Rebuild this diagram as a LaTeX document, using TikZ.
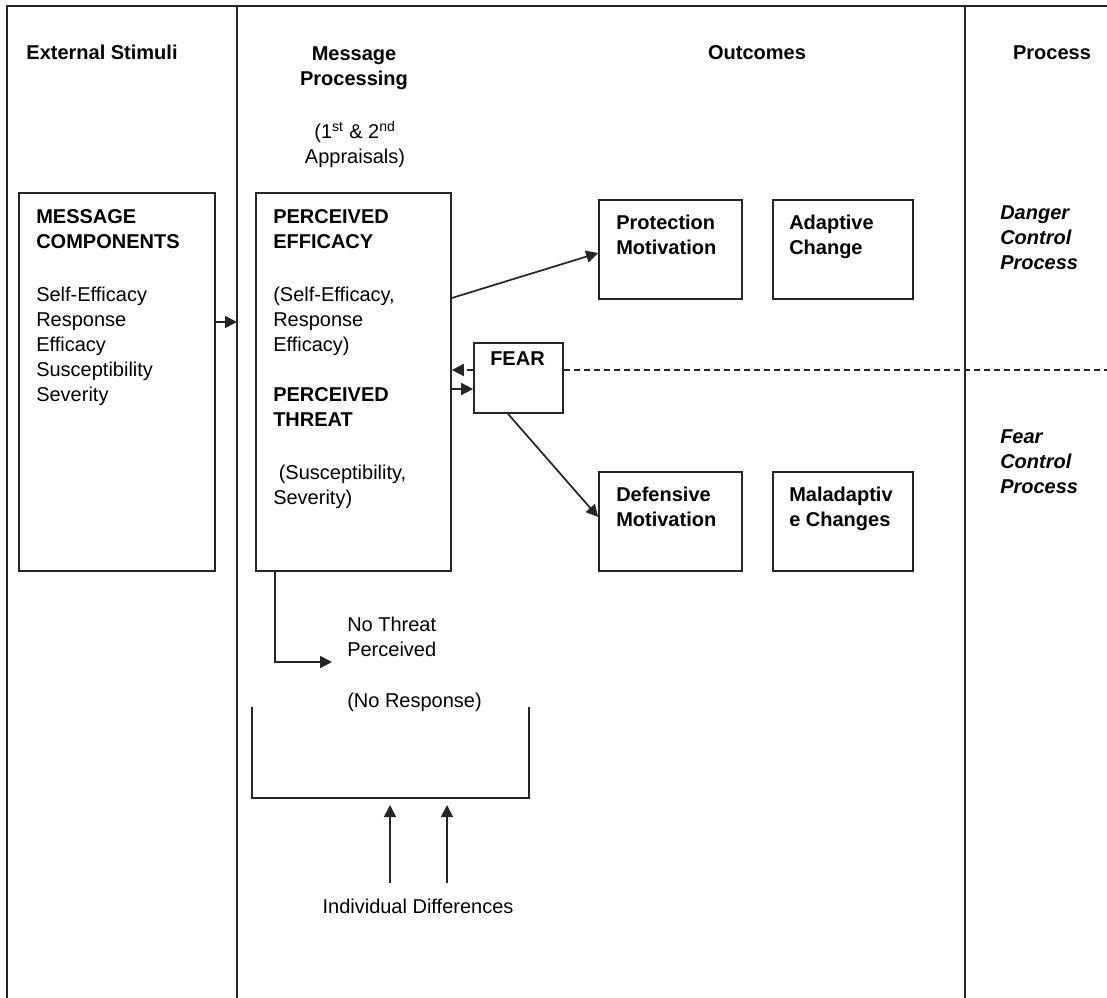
\documentclass[tikz,border=0pt]{standalone}
\usepackage{fontspec}
\setmainfont{Liberation Sans}
\usetikzlibrary{arrows.meta,fit}
\begin{document}
\begin{tikzpicture}[x=0.75pt,y=-0.75pt,
  ln/.style={line width=1.3pt, draw=black!85},
  box/.style={ln, rectangle, inner sep=0pt},
  txt/.style={inner sep=0pt, anchor=north west, align=left, font=\fontsize{15}{18.75}\selectfont},
  btxt/.style={txt, font=\fontsize{15}{18.75}\selectfont\bfseries},
  itxt/.style={txt, font=\fontsize{15}{18.75}\selectfont\bfseries\itshape},
  head/.style={inner sep=0pt, anchor=north, align=center, font=\fontsize{15}{18.75}\selectfont\bfseries},
  arr/.style={ln, -{Triangle[length=9pt,width=9pt]}},
  dsh/.style={ln, dash pattern=on 4.5pt off 3pt},
]
\useasboundingbox (0,0) rectangle (1107,998);
% frame
\coordinate (tl) at (7,6);
\coordinate (tr) at (1107,6);
\coordinate (bl) at (7,998);
\coordinate (d1t) at (237,6);
\coordinate (d1b) at (237,998);
\coordinate (d2t) at (965,6);
\coordinate (d2b) at (965,998);
\draw[ln] (bl) -- (tl) -- (tr);
\draw[ln] (d1t) -- (d1b);
\draw[ln] (d2t) -- (d2b);
% headings
\node[head] (h1) at (102,45) {External Stimuli};
\node[head] (h2) at (354,46) {Message\\Processing};
\node[txt, anchor=north, align=center] (h2b) at (355,121) {(1\textsuperscript{st} \& 2\textsuperscript{nd}\\Appraisals)};
\node[head] (h3) at (757,45) {Outcomes};
\node[head] (h4) at (1052,45) {Process};
% boxes
\node[box, fit={(19,193) (215,571)}] (mc) {};
\node[box, fit={(256,193) (451,571)}] (pe) {};
\node[box, fit={(599,200) (742,299)}] (pm) {};
\node[box, fit={(773,200) (913,299)}] (ac) {};
\node[box, fit={(474,343) (563,413)}] (fear) {};
\node[box, fit={(599,472) (742,571)}] (dm) {};
\node[box, fit={(773,472) (913,571)}] (mal) {};
% box texts
\node[btxt] (mc1) at (36,209) {MESSAGE\\COMPONENTS};
\node[txt] (mc2) at (36,287) {Self-Efficacy\\Response\\Efficacy\\Susceptibility\\Severity};
\node[btxt] (pe1) at (273,209) {PERCEIVED\\EFFICACY};
\node[txt] (pe2) at (273,287) {(Self-Efficacy,\\Response\\Efficacy)};
\node[btxt] (pe3) at (273,387) {PERCEIVED\\THREAT};
\node[txt] (pe4) at (273,465) {\ (Susceptibility,\\Severity)};
\node[btxt] (pm1) at (616,215) {Protection\\Motivation};
\node[btxt] (ac1) at (789,215) {Adaptive\\Change};
\node[btxt] (fear1) at (490,351) {FEAR};
\node[btxt] (dm1) at (616,487) {Defensive\\Motivation};
\node[btxt] (mal1) at (789,487) {Maladaptiv\\e Changes};
% process labels
\node[itxt] (dcp) at (1000,205) {Danger\\Control\\Process};
\node[itxt] (fcp) at (1000,429) {Fear\\Control\\Process};
% no threat
\node[txt] (nt) at (347,617) {No Threat\\Perceived};
\node[txt] (nr) at (347,693) {(No Response)};
\node[txt, anchor=north] (id) at (418,899) {Individual Differences};
% connectors
\draw[arr] (mc.east |- 0,322) -- (d1t |- 0,322);
\draw[arr] (pe.east |- 0,298) -- (pm.west |- 0,253);
\draw[arr, dash pattern=on 4.5pt off 3pt] (fear.west |- 0,370) -- (pe.east |- 0,370);
\draw[arr] (pe.east |- 0,389) -- (fear.west |- 0,389);
\coordinate (dend) at (1107,370);
\draw[dsh] (fear.east |- 0,370) -- (dend);
\draw[arr] (fear.south -| 508,0) -- (dm.west |- 0,517);
\coordinate (ntend) at (332,662);
\draw[arr] (pe.south -| 275,0) |- (ntend);
% bracket
\coordinate (brl) at (252,707);
\coordinate (brr) at (529,707);
\draw[ln] (brl) -- (252,798) -- (529,798) -- (brr);
\coordinate (ua1) at (390,805);
\coordinate (ua2) at (447,805);
\draw[arr] (ua1 |- 0,883) -- (ua1);
\draw[arr] (ua2 |- 0,883) -- (ua2);
\end{tikzpicture}
\end{document}
